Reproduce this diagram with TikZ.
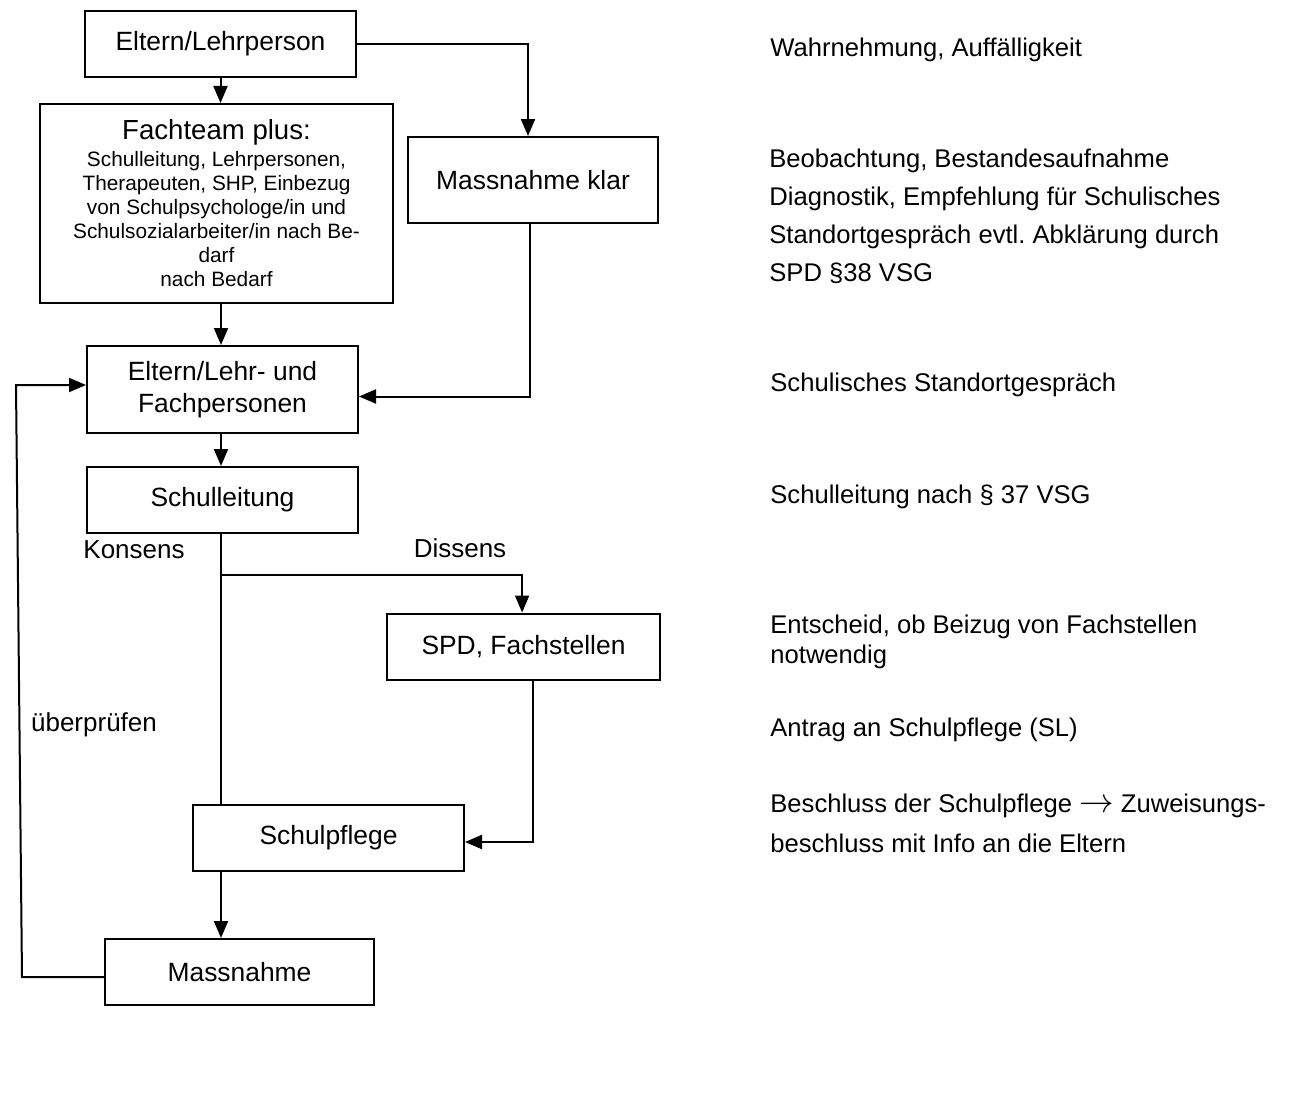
\documentclass[tikz,border=0pt]{standalone}
\usepackage{fontspec}
\setmainfont{Liberation Sans}
\usetikzlibrary{arrows.meta}
\frenchspacing

\tikzset{
  box/.style={draw, line width=1pt, minimum width=135.5pt, minimum height=33pt,
    inner sep=2pt, align=center, font=\fontsize{13.2}{16}\selectfont},
  arr/.style={line width=1pt, -{Triangle[length=8.5pt,width=7pt]}},
  line/.style={line width=1pt},
  lbl/.style={inner sep=0pt, font=\fontsize{13}{16}\selectfont},
  note/.style={anchor=west, align=left, inner sep=0pt, font=\fontsize{12.8}{19}\selectfont},
}

\begin{document}
\begin{tikzpicture}[x=0.5pt,y=-0.5pt]
\useasboundingbox (0,0) rectangle (1293,1102);

% boxes
\node[box] (eltern) at (220.5,44) {Eltern/Lehrperson};
\node[box, minimum width=176.5pt, minimum height=99.5pt, font=\fontsize{10.4}{12}\selectfont]
  (fachteam) at (216.5,203.5)
  {{\fontsize{13.8}{12}\selectfont Fachteam plus:}\\[1.5pt]
   Schulleitung, Lehrpersonen,\\
   Therapeuten, SHP, Einbezug\\
   von Schulpsychologe/in und\\
   Schulsozialarbeiter/in nach Be-\\
   darf\\
   nach Bedarf};
\node[box, minimum width=125pt, minimum height=43pt] (klar) at (533,180) {Massnahme klar};
\node[box, minimum height=43.5pt] (elfach) at (222.5,389.5) {Eltern/Lehr- und\\Fachpersonen};
\node[box] (schulleitung) at (222.5,500) {Schulleitung};
\node[box, minimum width=136.5pt] (spd) at (523.5,646.5) {SPD, Fachstellen};
\node[box] (schulpflege) at (328.5,838) {Schulpflege};
\node[box, minimum width=134.5pt] (massnahme) at (239.5,972) {Massnahme};

% connectors
\coordinate (split) at (221,575);
\coordinate (fbbot) at (22,977);
\coordinate (fbtop) at (16,385);
\draw[arr] (eltern.south) -- (eltern.south |- fachteam.north);
\draw[arr] (eltern.east) -| ([xshift=-2.5pt]klar.north);
\draw[arr] (split |- fachteam.south) -- (split |- elfach.north);
\draw[arr] ([xshift=-1.5pt]klar.south) |- ([yshift=-3.5pt]elfach.east);
\draw[arr] (split |- elfach.south) -- (split |- schulleitung.north);
\draw[line] (split |- schulleitung.south) -- (split |- schulpflege.north);
\draw[arr] (split) -| ([xshift=-0.7pt]spd.north);
\draw[arr] ([xshift=4.7pt]spd.south) |- ([yshift=-2pt]schulpflege.east);
\draw[arr] (split |- schulpflege.south) -- (split |- massnahme.north);
\draw[arr] ([yshift=-2.5pt]massnahme.west) -- (fbbot) -- (fbtop) -- (fbtop -| elfach.west);

% labels
\node[lbl] (konsens) at (134,550) {Konsens};
\node[lbl] (dissens) at (460,548) {Dissens};
\node[lbl] (pruefen) at (94,725) {überprüfen};

% notes on the right
\node[note] (n1) at (770,50) {Wahrnehmung, Auffälligkeit};
\node[note] (n2) at (769,216.5) {Beobachtung, Bestandesaufnahme\\
  Diagnostik, Empfehlung für Schulisches\\
  Standortgespräch evtl. Abklärung durch\\
  SPD §38 VSG};
\node[note] (n3) at (770,385) {Schulisches Standortgespräch};
\node[note] (n4) at (770,497) {Schulleitung nach § 37 VSG};
\node[note, font=\fontsize{12.8}{15}\selectfont] (n5) at (770,642) {Entscheid, ob Beizug von Fachstellen\\notwendig};
\node[note] (n6) at (770,730) {Antrag an Schulpflege (SL)};
\node[note, font=\fontsize{12.8}{20}\selectfont] (n7) at (770,823)
  {Beschluss der Schulpflege {\fontsize{16}{16}\selectfont$\rightarrow$} Zuweisungs-\\beschluss mit Info an die Eltern};
\end{tikzpicture}
\end{document}
